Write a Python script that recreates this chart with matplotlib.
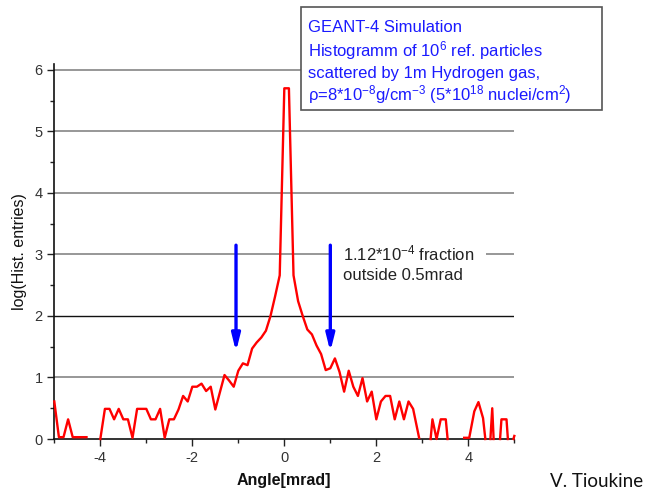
import numpy as np
import matplotlib
matplotlib.use("Agg")
import matplotlib.pyplot as plt
from matplotlib.patches import Rectangle
from matplotlib.ticker import MultipleLocator

plt.rcParams['font.family'] = ['Liberation Sans', 'DejaVu Sans']
plt.rcParams['mathtext.fontset'] = 'custom'
plt.rcParams['mathtext.rm'] = 'Liberation Sans'
plt.rcParams['mathtext.it'] = 'Liberation Sans:italic'
plt.rcParams['mathtext.bf'] = 'Liberation Sans:bold'

nan = np.nan
# Histogram (log10 of entries); nan = empty bins (gap)
angle = [-5.0, -4.9, -4.8, -4.7, -4.6, -4.5, -4.4, -4.3, nan,
         -4.0, -3.9, -3.8, -3.7, -3.6, -3.5, -3.4, -3.3, -3.2, -3.1,
         -3.0, -2.9, -2.8, -2.7, -2.6, -2.5, -2.4, -2.3, -2.2, -2.1,
         -2.0, -1.9, -1.8, -1.7, -1.6, -1.5, -1.3, -1.2, -1.1,
         -1.0, -0.9, -0.8, -0.7, -0.6, -0.5, -0.4, -0.3, -0.2, -0.1,
         0.0, 0.1, 0.2, 0.3, 0.4, 0.5, 0.6, 0.7, 0.8, 0.9,
         1.0, 1.1, 1.2, 1.3, 1.4, 1.5, 1.6, 1.7, 1.8, 1.9,
         2.0, 2.1, 2.2, 2.3, 2.4, 2.5, 2.6, 2.7, 2.8, 2.93, nan,
         3.18, 3.22, 3.31, 3.40, 3.51, 3.55, nan,
         3.91, 4.02, 4.13, 4.22, 4.32, 4.37, nan,
         4.48, 4.52, 4.55, nan,
         4.69, 4.72, 4.83, 4.86, nan,
         4.98, 5.0]
log_entries = [0.61, 0.03, 0.03, 0.32, 0.03, 0.03, 0.03, 0.03, nan,
               0.0, 0.49, 0.49, 0.32, 0.49, 0.32, 0.32, 0.02, 0.49, 0.49,
               0.49, 0.32, 0.32, 0.49, 0.02, 0.32, 0.32, 0.48, 0.70, 0.61,
               0.85, 0.85, 0.90, 0.78, 0.85, 0.48, 1.04, 0.95, 0.85,
               1.11, 1.23, 1.20, 1.47, 1.57, 1.65, 1.76, 2.00, 2.32, 2.66,
               5.70, 5.70, 2.66, 2.24, 2.00, 1.78, 1.70, 1.52, 1.38, 1.12,
               1.15, 1.31, 1.09, 0.77, 1.11, 0.85, 0.70, 0.99, 0.61, 0.77,
               0.32, 0.61, 0.70, 0.70, 0.32, 0.61, 0.32, 0.61, 0.49, 0.02, nan,
               0.0, 0.32, 0.0, 0.32, 0.32, 0.0, nan,
               0.02, 0.02, 0.45, 0.60, 0.34, 0.0, nan,
               0.0, 0.50, 0.0, nan,
               0.0, 0.32, 0.32, 0.0, nan,
               0.0, 0.05]

arrow_x = [-1.05, 1.0]
arrow_top = 3.15
arrow_tip = 1.42

x_ticks = [-4, -2, 0, 2, 4]
y_ticks = [0, 1, 2, 3, 4, 5, 6]

fig = plt.figure(figsize=(6.45, 4.93), dpi=100)
ax = fig.add_axes([0.0842, 0.1095, 0.7132, 0.7601])

ax.plot(angle, log_entries, color='#ff0000', lw=1.7, zorder=3, clip_on=False)

ax.set_xlim(-5, 5)
ax.set_ylim(0, 6.09)
ax.set_xticks(x_ticks)
ax.set_yticks(y_ticks)
ax.xaxis.set_minor_locator(MultipleLocator(1))
ax.yaxis.set_minor_locator(MultipleLocator(0.5))
ax.tick_params(which='major', direction='out', length=5, width=1, colors='#222222',
               labelsize=10.5, labelcolor='#333333')
ax.tick_params(which='minor', direction='out', length=3, width=1, colors='#222222')
ax.set_xticklabels(['-4', '-2', '0', '2', '4'])

for s in ['top', 'right']:
    ax.spines[s].set_visible(False)
for s in ['left', 'bottom']:
    ax.spines[s].set_linewidth(1.2)
    ax.spines[s].set_color('#111111')

ax.grid(axis='y', which='major', color='#7a7a7a', lw=1.1, zorder=1)
for val, gl in zip(y_ticks, ax.get_ygridlines()):
    if val == 2:
        gl.set_color('#111111')
        gl.set_linewidth(1.0)
    if val == 0:
        gl.set_visible(False)
ax.set_axisbelow(True)

ax.set_xlabel('Angle[mrad]', fontsize=11.5, fontweight='bold', labelpad=6, color='#111111')
ax.set_ylabel('log(Hist. entries)', fontsize=11.5, labelpad=5, color='#111111')

for xa in arrow_x:
    ax.annotate('', xy=(xa, arrow_tip), xytext=(xa, arrow_top),
                arrowprops=dict(arrowstyle='-|>,head_length=1.0,head_width=0.25',
                                color='#0000ff', lw=2.4, shrinkA=0, shrinkB=0),
                zorder=4)

ax.text(1.27, 2.86, '1.12*10$^{-4}$ fraction\noutside 0.5mrad', fontsize=12,
        color='#222222', ha='left', va='center', linespacing=1.35,
        bbox=dict(facecolor='white', edgecolor='none', pad=9), zorder=2)

# info box
box = Rectangle((0.466, 0.777), 0.467, 0.209, transform=fig.transFigure,
                facecolor='white', edgecolor='#555555', lw=1.2, zorder=10)
fig.add_artist(box)
lines = ['GEANT-4 Simulation',
         'Histogramm of 10$^{6}$ ref. particles',
         'scattered by 1m Hydrogen gas,',
         '\u03c1=8*10$^{-8}$g/cm$^{-3}$ (5*10$^{18}$ nuclei/cm$^{2}$)']
baselines = [31.7, 56, 78, 100]
for t, b in zip(lines, baselines):
    fig.text(308 / 645, 1 - b / 493, t, fontsize=12, color='#1a1aff',
             ha='left', va='baseline', zorder=11)

fig.text(550 / 645, 1 - 487 / 493, 'V. Tioukine', fontsize=13.5, family=['Lato', 'DejaVu Sans'],
         color='#111111', ha='left', va='baseline')

fig.savefig('out.png', dpi=100, facecolor='white')
